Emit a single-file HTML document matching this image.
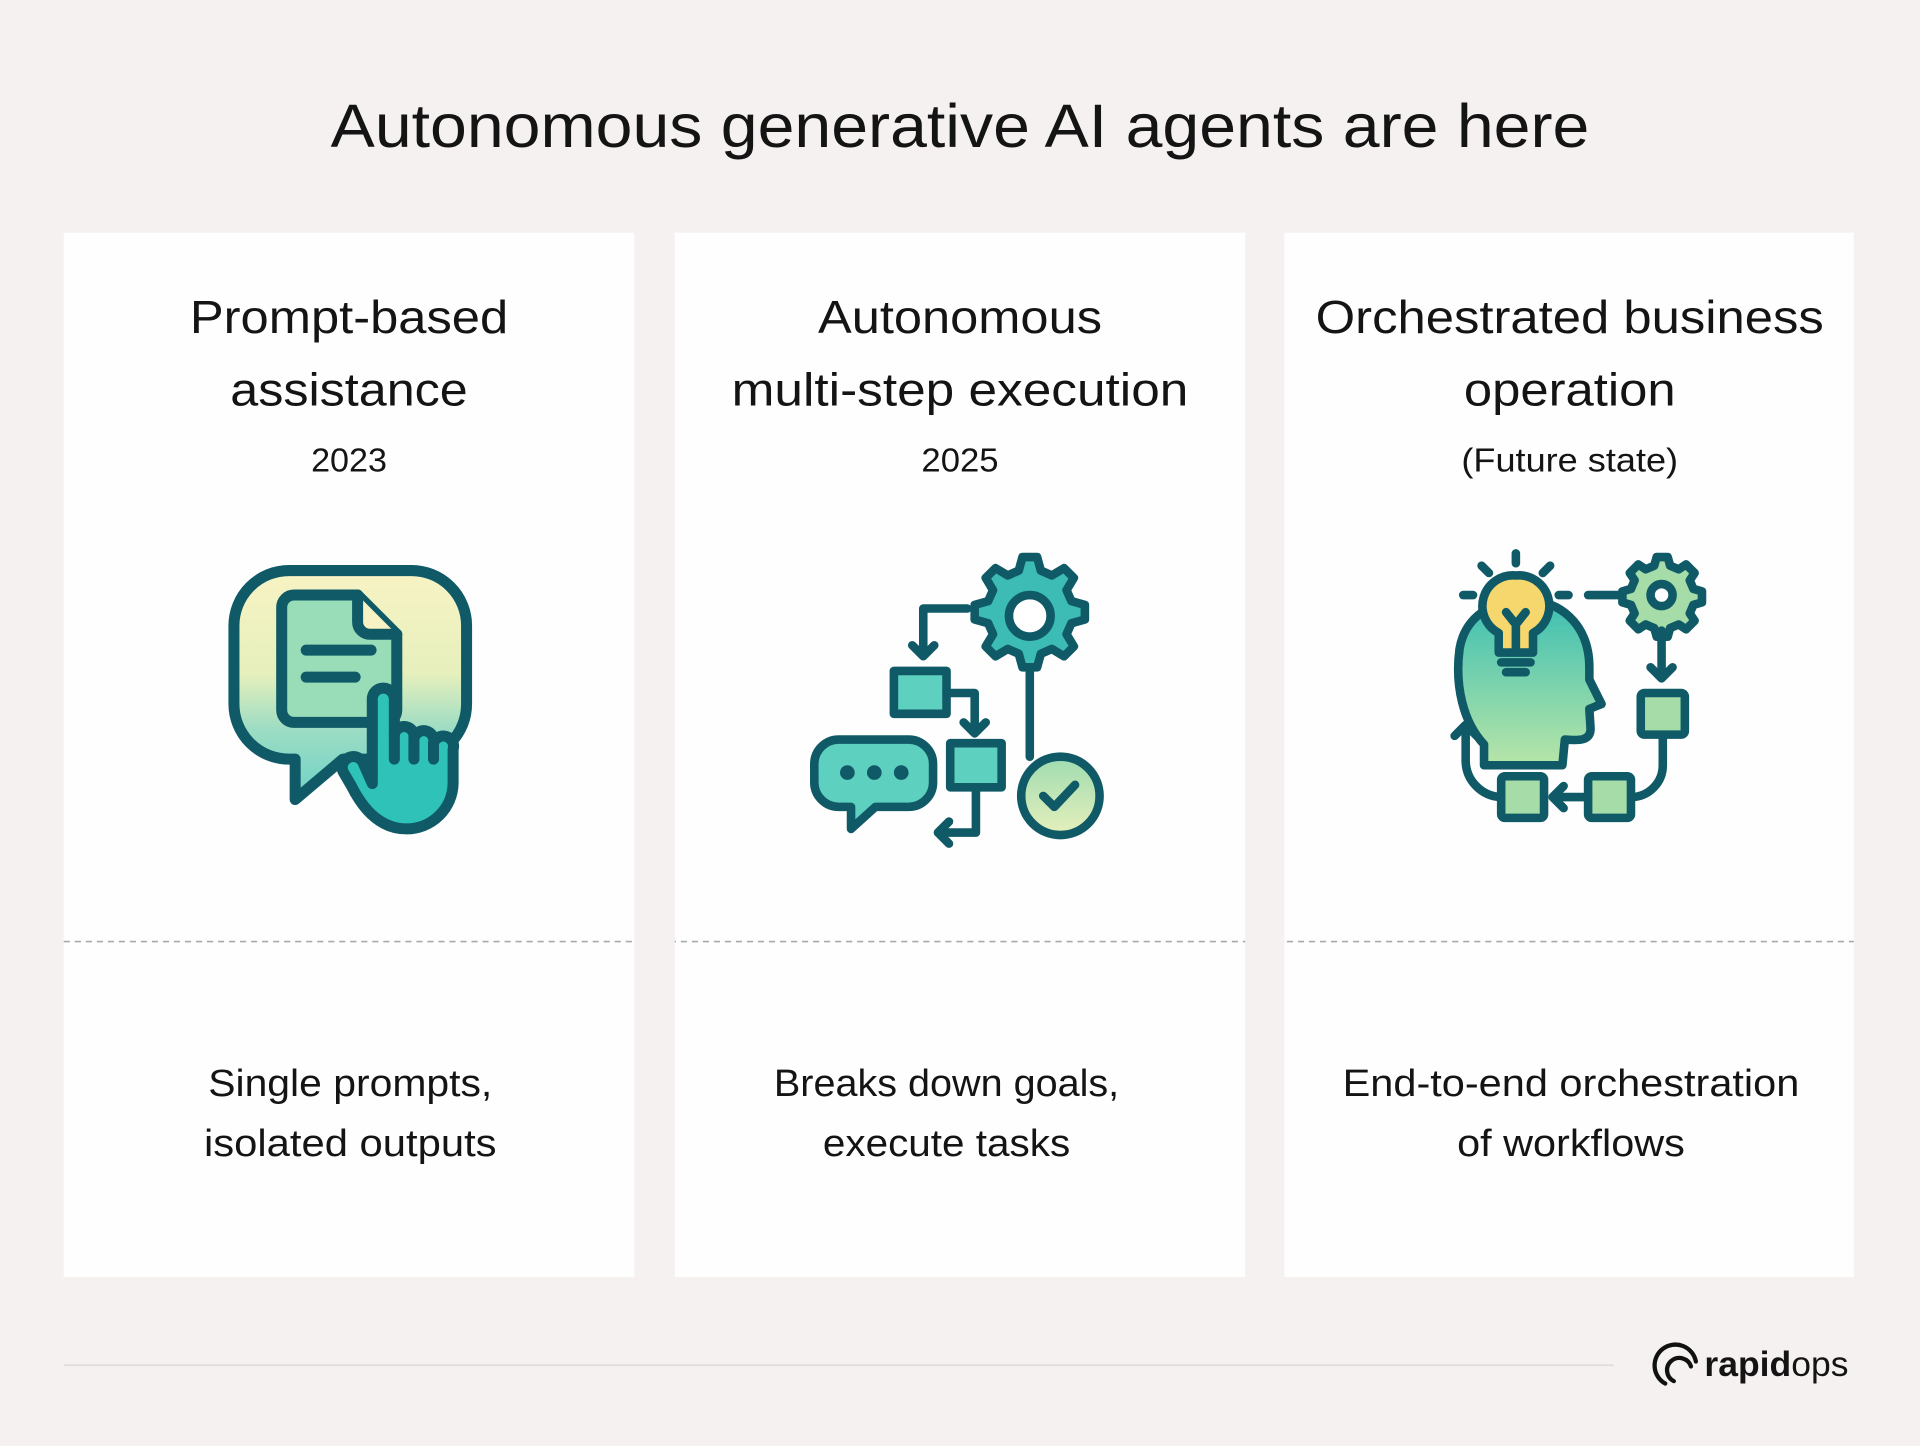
<!DOCTYPE html>
<html><head><meta charset="utf-8"><style>
html,body{margin:0;padding:0;background:#f5f1f0;}
svg{display:block}
text{font-family:"Liberation Sans",sans-serif;fill:#141414}
</style></head><body>
<svg width="1920" height="1446" viewBox="0 0 1568 1181" xmlns="http://www.w3.org/2000/svg">
<defs>
<linearGradient id="g1" x1="0" y1="0" x2="0" y2="1"><stop offset="0" stop-color="#f8f3c4"/><stop offset="0.45" stop-color="#e6f0bc"/><stop offset="0.7" stop-color="#9bdcc4"/><stop offset="1" stop-color="#6fd3c6"/></linearGradient>
<linearGradient id="g2" x1="0" y1="0" x2="0" y2="1"><stop offset="0" stop-color="#3cbfb2"/><stop offset="1" stop-color="#b7e5a8"/></linearGradient>
<linearGradient id="g3" x1="0" y1="0" x2="0" y2="1"><stop offset="0" stop-color="#9fdcb0"/><stop offset="1" stop-color="#e6efbc"/></linearGradient>
</defs>
<rect width="1568" height="1181" fill="#f5f1f0"/>
<text x="784" y="120" text-anchor="middle" font-size="50" textLength="1028" lengthAdjust="spacingAndGlyphs">Autonomous generative AI agents are here</text>

<g fill="#fefefe">
<rect x="52" y="190" width="466" height="853"/>
<rect x="551" y="190" width="466" height="853"/>
<rect x="1049" y="190" width="465" height="853"/>
</g>
<line x1="52" y1="769" x2="1514" y2="769" stroke="#a9a9a9" stroke-width="1.3" stroke-dasharray="5 4"/>
<line x1="518" y1="769" x2="551" y2="769" stroke="#f5f1f0" stroke-width="3"/>
<line x1="1017" y1="769" x2="1049" y2="769" stroke="#f5f1f0" stroke-width="3"/>

<g font-size="38" text-anchor="middle">
<text x="285" y="272" textLength="260" lengthAdjust="spacingAndGlyphs">Prompt-based</text>
<text x="285" y="331" textLength="194" lengthAdjust="spacingAndGlyphs">assistance</text>
<text x="784" y="272" textLength="232" lengthAdjust="spacingAndGlyphs">Autonomous</text>
<text x="784" y="331" textLength="373" lengthAdjust="spacingAndGlyphs">multi-step execution</text>
<text x="1282" y="272" textLength="415" lengthAdjust="spacingAndGlyphs">Orchestrated business</text>
<text x="1282" y="331" textLength="173" lengthAdjust="spacingAndGlyphs">operation</text>
</g>
<g font-size="27" text-anchor="middle" fill="#222">
<text x="285" y="385" textLength="62" lengthAdjust="spacingAndGlyphs">2023</text>
<text x="784" y="385" textLength="63" lengthAdjust="spacingAndGlyphs">2025</text>
<text x="1282" y="385" textLength="177" lengthAdjust="spacingAndGlyphs">(Future state)</text>
</g>
<g font-size="31" text-anchor="middle">
<text x="286" y="895" textLength="232" lengthAdjust="spacingAndGlyphs">Single prompts,</text>
<text x="286" y="944" textLength="239" lengthAdjust="spacingAndGlyphs">isolated outputs</text>
<text x="773" y="895" textLength="282" lengthAdjust="spacingAndGlyphs">Breaks down goals,</text>
<text x="773" y="944" textLength="202" lengthAdjust="spacingAndGlyphs">execute tasks</text>
<text x="1283" y="895" textLength="373" lengthAdjust="spacingAndGlyphs">End-to-end orchestration</text>
<text x="1283" y="944" textLength="186" lengthAdjust="spacingAndGlyphs">of workflows</text>
</g>

<!-- Icon 1 -->
<g stroke="#0f5a66" stroke-width="9" stroke-linejoin="round" stroke-linecap="round">
<path d="M236,466 H336 A45,45 0 0 1 381,511 V575 A45,45 0 0 1 336,620 H280 L241,653 V620 H236 A45,45 0 0 1 191,575 V511 A45,45 0 0 1 236,466 Z" fill="url(#g1)"/>
<path d="M240,486 H292 L324,518 V580 A10,10 0 0 1 314,590 H240 A10,10 0 0 1 230,580 V496 A10,10 0 0 1 240,486 Z" fill="#98dcb8"/>
<path d="M292,486 V508 A10,10 0 0 0 302,518 H324" fill="#f8f3c4"/>
<line x1="250" y1="531" x2="303" y2="531"/><line x1="250" y1="553" x2="290" y2="553"/>
<path d="M304,640 V571 A9,9 0 0 1 322,571 V600 A8,8 0 0 1 338,603 A8,8 0 0 1 354,607 A8,8 0 0 1 370,612 V640 A38,38 0 0 1 332,677 C310,677 296,660 287,642 L280,630 A9,9 0 0 1 296,622 Z" fill="#2fc2b8"/>
<line x1="322" y1="600" x2="322" y2="620"/><line x1="338" y1="603" x2="338" y2="620"/><line x1="354" y1="607" x2="354" y2="620"/>
</g>

<!-- Icon 2 -->
<g stroke="#0f5a66" stroke-width="7" stroke-linejoin="round" stroke-linecap="round" fill="none">
<path d="M835,455 h12 l3,11 l9,4 l10,-6 l8,8 l-6,10 l4,9 l11,3 v12 l-11,3 l-4,9 l6,10 l-8,8 l-10,-6 l-9,4 l-3,11 h-12 l-3,-11 l-9,-4 l-10,6 l-8,-8 l6,-10 l-4,-9 l-11,-3 v-12 l11,-3 l4,-9 l-6,-10 l8,-8 l10,6 l9,-4 z" fill="#3cbcb4"/>
<circle cx="841" cy="503" r="17" fill="#fff"/>
<line x1="841" y1="548" x2="841" y2="618"/>
<circle cx="866" cy="650" r="32" fill="url(#g3)"/>
<path d="M852,650 l9,9 l17,-18"/>
<path d="M790,497 H754 V535"/><path d="M745,527 l9,9 l9,-9"/>
<rect x="730" y="548" width="43" height="35" fill="#5ed0c0"/>
<path d="M773,566 H796 V597"/><path d="M787,590 l9,9 l9,-9"/>
<rect x="776" y="607" width="42" height="36" fill="#5ed0c0"/>
<path d="M797,643 V680 H768"/><path d="M775,671 l-9,9 l9,9"/>
<path d="M685,604 H742 A20,20 0 0 1 762,624 V639 A20,20 0 0 1 742,659 H715 L695,677 V659 H685 A20,20 0 0 1 665,639 V624 A20,20 0 0 1 685,604 Z" fill="#5ed0c0"/>
</g>
<g fill="#0f5a66"><circle cx="692" cy="631" r="6"/><circle cx="714" cy="631" r="6"/><circle cx="736" cy="631" r="6"/></g>

<!-- Icon 3 -->
<g stroke="#0f5a66" stroke-width="7" stroke-linejoin="round" stroke-linecap="round" fill="none">
<path d="M1212,608 C1195,590 1188,560 1192,530 C1197,500 1225,488 1250,490 C1280,493 1298,515 1298,545 L1298,555 L1308,575 L1298,579 L1299,595 C1299,605 1290,605 1278,604 L1276,625 L1212,625 Z" fill="url(#g2)"/>
<path d="M1238,470 A25,25 0 0 1 1252,517 V533 H1224 V517 A25,25 0 0 1 1238,470 Z" fill="#f5d76e"/>
<path d="M1230,500 l8,10 l8,-10 M1238,510 v20"/>
<path d="M1226,541 h24 M1230,549 h16"/>
<line x1="1238" y1="452" x2="1238" y2="460"/><line x1="1210" y1="462" x2="1216" y2="468"/><line x1="1266" y1="462" x2="1260" y2="468"/>
<line x1="1195" y1="486" x2="1203" y2="486"/><line x1="1273" y1="486" x2="1281" y2="486"/>
<line x1="1297" y1="486" x2="1325" y2="486"/>
<path d="M1353,455 h9 l2,7 l7,3 l6,-4 l7,7 l-4,6 l3,7 l7,2 v9 l-7,2 l-3,7 l4,6 l-7,7 l-6,-4 l-7,3 l-2,7 h-9 l-2,-7 l-7,-3 l-6,4 l-7,-7 l4,-6 l-3,-7 l-7,-2 v-9 l7,-2 l3,-7 l-4,-6 l7,-7 l6,4 l7,-3 z" fill="#a6dca8"/>
<circle cx="1357" cy="486" r="9" fill="#fff"/>
<line x1="1357" y1="515" x2="1357" y2="552"/><path d="M1348,545 l9,9 l9,-9"/>
<rect x="1340" y="566" width="36" height="34" rx="3" fill="#a6dca8"/>
<path d="M1358,600 V625 A26,26 0 0 1 1332,651"/>
<rect x="1297" y="634" width="35" height="34" rx="3" fill="#a6dca8"/>
<line x1="1297" y1="651" x2="1269" y2="651"/><path d="M1277,642 l-9,9 l9,9"/>
<rect x="1226" y="634" width="35" height="34" rx="3" fill="#a6dca8"/>
<path d="M1226,651 A30,30 0 0 1 1197,621 V593"/><path d="M1188,601 l9,-9 l9,9"/>
</g>

<line x1="52" y1="1115" x2="1318" y2="1115" stroke="#e3dedd" stroke-width="1.5"/>
<g stroke="#111" stroke-width="3.5" fill="none" stroke-linecap="round">
<path d="M1360,1130 A17,17 0 1 1 1385,1112"/>
<path d="M1367,1128 A10,10 0 1 1 1381,1116"/>
</g>
<text x="1392" y="1124" font-size="29" font-weight="bold">rapid<tspan font-weight="normal">ops</tspan></text>
</svg>
</body></html>
